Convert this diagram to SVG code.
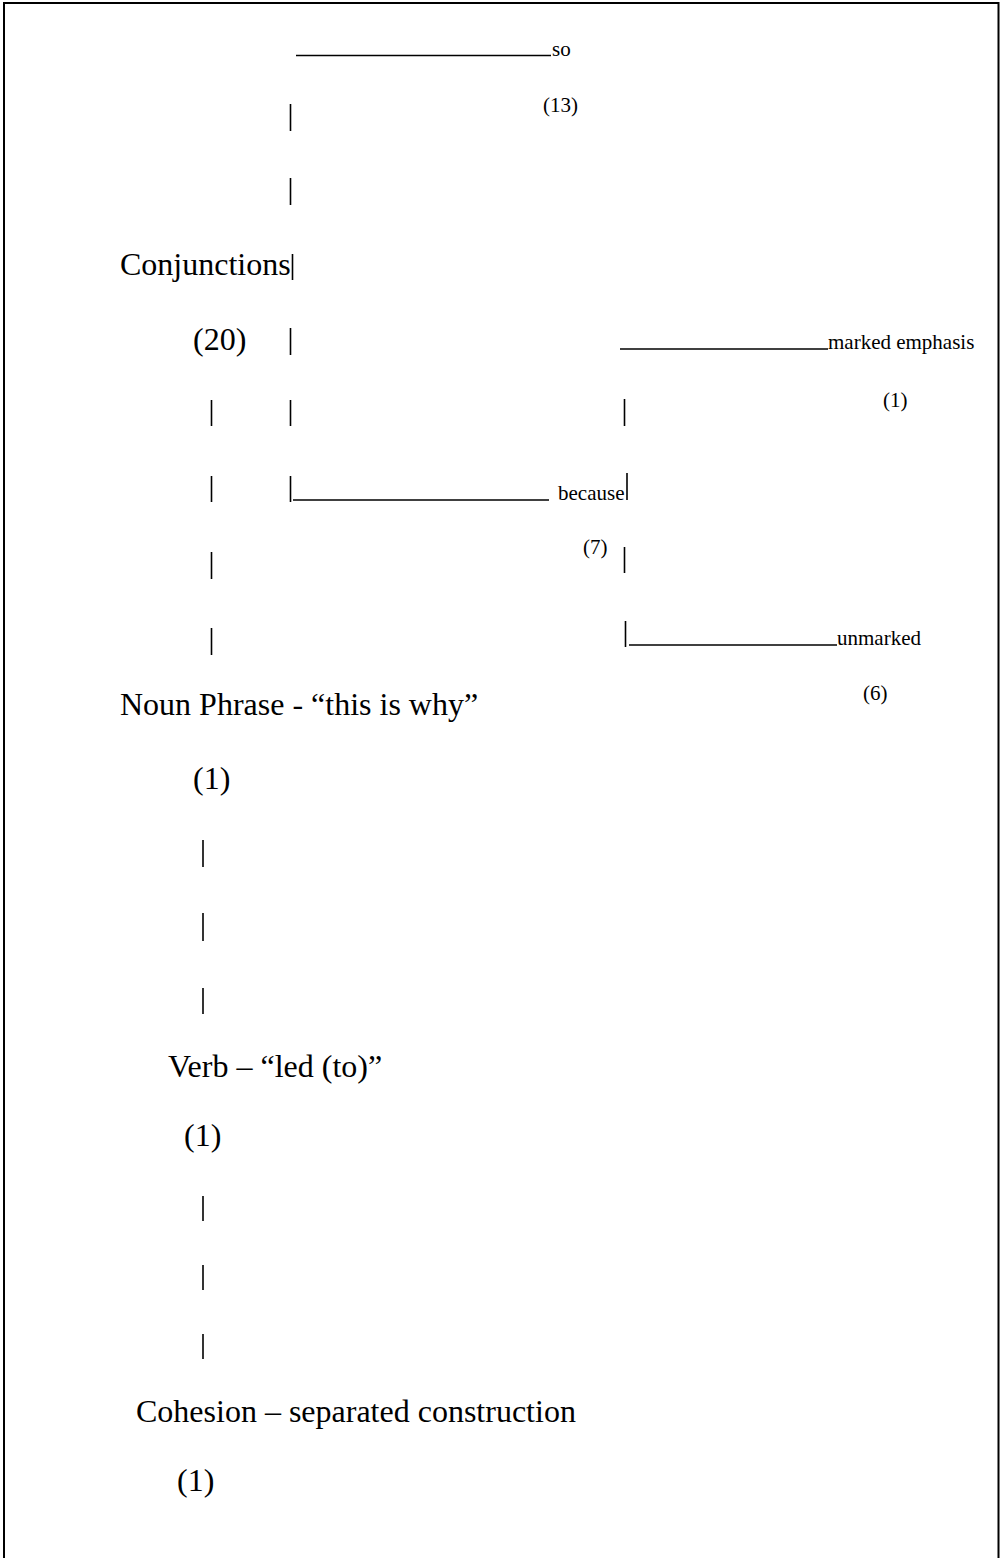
<svg xmlns="http://www.w3.org/2000/svg" width="1001" height="1558" viewBox="0 0 1001 1558">
<style>
text{font-family:"Liberation Serif","Times New Roman",serif;fill:#000}
.big{font-size:32px}
.sm{font-size:21px}
.bar{stroke:#000;stroke-width:1.6;fill:none}
.rule{stroke:#000;stroke-width:1.7;fill:none}
</style>
<rect width="1001" height="1558" fill="#fff"/>
<path d="M4,1558 V3 H998.5 V1558" fill="none" stroke="#000" stroke-width="2"/>
<g id="connectors">
<line class="rule" x1="296" y1="55.5" x2="551" y2="55.5"/>
<line class="rule" x1="293" y1="500" x2="549" y2="500"/>
<line class="rule" x1="620" y1="349" x2="828" y2="349"/>
<line class="rule" x1="629" y1="645" x2="837" y2="645"/>
<line class="bar" x1="290.5" y1="104" x2="290.5" y2="131"/>
<line class="bar" x1="290.5" y1="178" x2="290.5" y2="205"/>
<line class="bar" x1="292.5" y1="254" x2="292.5" y2="280"/>
<line class="bar" x1="290.5" y1="328" x2="290.5" y2="355"/>
<line class="bar" x1="290.5" y1="400" x2="290.5" y2="426"/>
<line class="bar" x1="290.5" y1="476" x2="290.5" y2="502"/>
<line class="bar" x1="211.5" y1="400" x2="211.5" y2="426"/>
<line class="bar" x1="211.5" y1="476" x2="211.5" y2="502"/>
<line class="bar" x1="211.5" y1="552" x2="211.5" y2="579"/>
<line class="bar" x1="211.5" y1="628" x2="211.5" y2="655"/>
<line class="bar" x1="624.5" y1="399" x2="624.5" y2="426"/>
<line class="bar" x1="627" y1="473" x2="627" y2="500"/>
<line class="bar" x1="624.5" y1="547" x2="624.5" y2="573"/>
<line class="bar" x1="625.5" y1="621" x2="625.5" y2="647"/>
<line class="bar" x1="203" y1="840" x2="203" y2="867"/>
<line class="bar" x1="203" y1="913" x2="203" y2="941"/>
<line class="bar" x1="203" y1="988" x2="203" y2="1014"/>
<line class="bar" x1="203" y1="1196" x2="203" y2="1221"/>
<line class="bar" x1="203" y1="1265" x2="203" y2="1290"/>
<line class="bar" x1="203" y1="1334" x2="203" y2="1359"/>
</g>
<g id="so"><text class="sm" x="552" y="56">so</text><text class="sm" x="543" y="112">(13)</text></g>
<g id="conjunctions"><text class="big" x="120" y="275">Conjunctions</text><text class="big" x="193" y="350">(20)</text></g>
<g id="marked"><text class="sm" x="828" y="349">marked emphasis</text><text class="sm" x="883" y="407">(1)</text></g>
<g id="because"><text class="sm" x="558" y="500">because</text><text class="sm" x="583" y="554">(7)</text></g>
<g id="unmarked"><text class="sm" x="837" y="645">unmarked</text><text class="sm" x="863" y="700">(6)</text></g>
<g id="noun"><text class="big" x="120" y="715">Noun Phrase - “this is why”</text><text class="big" x="193" y="789">(1)</text></g>
<g id="verb"><text class="big" x="168" y="1077">Verb – “led (to)”</text><text class="big" x="184" y="1146">(1)</text></g>
<g id="cohesion"><text class="big" x="136" y="1422">Cohesion – separated construction</text><text class="big" x="177" y="1491">(1)</text></g>
</svg>
